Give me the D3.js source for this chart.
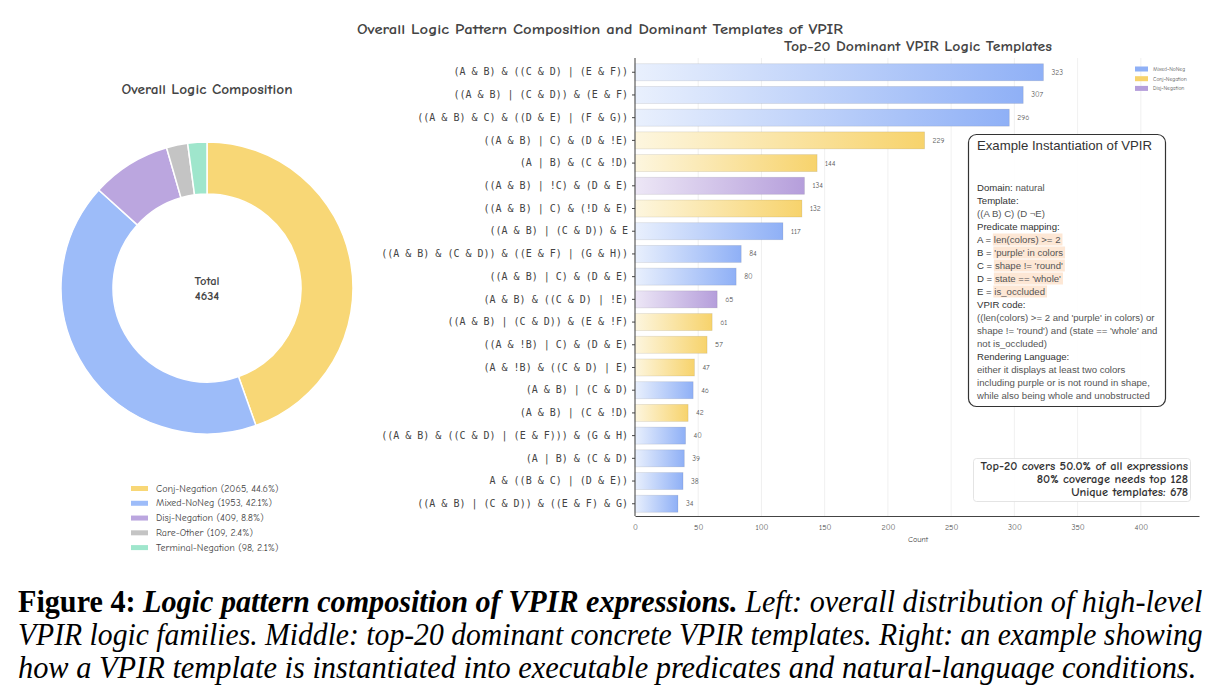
<!DOCTYPE html>
<html>
<head>
<meta charset="utf-8">
<script src="https://cdn.jsdelivr.net/npm/d3@7"></script>
<style>
  body { margin: 0; background: #fff; }
  svg { display: block; }
</style>
</head>
<body>
<svg id="fig" width="1221" height="698"></svg>
<script>
// donut data
const families = ["Conj-Negation", "Mixed-NoNeg", "Disj-Negation", "Rare-Other", "Terminal-Negation"];
const familyCounts = [2065, 1953, 409, 109, 98];
const familyColors = ["#f8d776", "#9dbcf9", "#bba6df", "#c4c4c4", "#9fe6cc"];

// top-20 templates
const templates = [
  "(A & B) & ((C & D) | (E & F))",
  "((A & B) | (C & D)) & (E & F)",
  "((A & B) & C) & ((D & E) | (F & G))",
  "((A & B) | C) & (D & !E)",
  "(A | B) & (C & !D)",
  "((A & B) | !C) & (D & E)",
  "((A & B) | C) & (!D & E)",
  "((A & B) | (C & D)) & E",
  "((A & B) & (C & D)) & ((E & F) | (G & H))",
  "((A & B) | C) & (D & E)",
  "(A & B) & ((C & D) | !E)",
  "((A & B) | (C & D)) & (E & !F)",
  "((A & !B) | C) & (D & E)",
  "(A & !B) & ((C & D) | E)",
  "(A & B) | (C & D)",
  "(A & B) | (C & !D)",
  "((A & B) & ((C & D) | (E & F))) & (G & H)",
  "(A | B) & (C & D)",
  "A & ((B & C) | (D & E))",
  "((A & B) | (C & D)) & ((E & F) & G)"
];
const templateCounts = [323, 307, 296, 229, 144, 134, 132, 117, 84, 80, 65, 61, 57, 47, 46, 42, 40, 39, 38, 34];
const templateFamilies = ["Mixed-NoNeg", "Mixed-NoNeg", "Mixed-NoNeg", "Conj-Negation", "Conj-Negation",
  "Disj-Negation", "Conj-Negation", "Mixed-NoNeg", "Mixed-NoNeg", "Mixed-NoNeg", "Disj-Negation",
  "Conj-Negation", "Conj-Negation", "Conj-Negation", "Mixed-NoNeg", "Conj-Negation", "Mixed-NoNeg",
  "Mixed-NoNeg", "Mixed-NoNeg", "Mixed-NoNeg"];
const barLegend = ["Mixed-NoNeg", "Conj-Negation", "Disj-Negation"];
const xTicks = [0, 50, 100, 150, 200, 250, 300, 350, 400];

const statLines = ["Top-20 covers 50.0% of all expressions", "80% coverage needs top 128", "Unique templates: 678"];

const comic = "'Comic Sans MS', 'Comic Neue', 'DejaVu Sans', sans-serif";
const mono = "'DejaVu Sans Mono', monospace";
const sans = "'Liberation Sans', Arial, sans-serif";

const svg = d3.select("#fig");
const defs = svg.append("defs");

// gradients for bars (light left -> saturated right)
const barGrad = {
  "Mixed-NoNeg": ["#e9f0fd", "#8fb0f6"],
  "Conj-Negation": ["#fdf6df", "#f7d36c"],
  "Disj-Negation": ["#ede7f6", "#b59edb"]
};
Object.entries(barGrad).forEach(([k, c], i) => {
  const g = defs.append("linearGradient").attr("id", "grad" + i).attr("x1", 0).attr("x2", 1).attr("y1", 0).attr("y2", 0);
  g.append("stop").attr("offset", "0%").attr("stop-color", c[0]);
  g.append("stop").attr("offset", "100%").attr("stop-color", c[1]);
  barGrad[k].id = "grad" + i;
});

function fit(sel, w) {
  sel.attr("textLength", w).attr("lengthAdjust", "spacingAndGlyphs");
}

// main title
svg.append("text")
  .attr("x", 600).attr("y", 34)
  .attr("text-anchor", "middle")
  .attr("font-family", comic).attr("font-weight", "bold").attr("font-size", 14)
  .attr("fill", "#444")
  .text("Overall Logic Pattern Composition and Dominant Templates of VPIR")
  .call(fit, 486);

// ---------- donut ----------
const cx = 207, cy = 288;
const outerR = 146, innerR = 94;
svg.append("text")
  .attr("x", cx).attr("y", 94)
  .attr("text-anchor", "middle")
  .attr("font-family", comic).attr("font-weight", "bold").attr("font-size", 14)
  .attr("fill", "#444")
  .text("Overall Logic Composition")
  .call(fit, 171);

const pieData = d3.pie().sort(null).value((d) => d.count)(
  families.map((f, i) => ({ name: f, count: familyCounts[i], color: familyColors[i] }))
);
const arc = d3.arc().innerRadius(innerR).outerRadius(outerR);
svg.append("g")
  .attr("transform", `translate(${cx},${cy})`)
  .selectAll("path")
  .data(pieData)
  .join("path")
  .attr("d", arc)
  .attr("fill", (d) => d.data.color)
  .attr("stroke", "#fff")
  .attr("stroke-width", 1.5);

const total = d3.sum(familyCounts);
const totalText = svg.append("text")
  .attr("x", cx).attr("y", cy - 3)
  .attr("text-anchor", "middle")
  .attr("font-family", comic).attr("font-weight", "bold").attr("font-size", 12.5)
  .attr("fill", "#444");
totalText.append("tspan").attr("x", cx).attr("dy", 0).text("Total");
totalText.append("tspan").attr("x", cx).attr("dy", 15).text(total);

const legY = d3.scalePoint().domain(families).range([488.5, 547.6]);
const leg = svg.append("g").selectAll("g").data(families).join("g");
leg.append("rect")
  .attr("x", 131).attr("y", (d) => legY(d) - 2.5)
  .attr("width", 17).attr("height", 5)
  .attr("fill", (d, i) => familyColors[i]);
leg.append("text")
  .attr("x", 156).attr("y", (d) => legY(d))
  .attr("dominant-baseline", "central")
  .attr("font-family", comic).attr("font-size", 10)
  .attr("fill", "#444")
  .text((d, i) => `${d} (${familyCounts[i]}, ${(familyCounts[i] / total * 100).toFixed(1)}%)`);

// ---------- bar chart ----------
const x = d3.scaleLinear().domain([0, 446]).range([635, 1199]);
const y = d3.scaleBand().domain(templates).range([61, 515]).paddingInner(0.25).paddingOuter(0.12);
const baseY = 516, topY = 58;

svg.append("text")
  .attr("x", 918).attr("y", 51)
  .attr("text-anchor", "middle")
  .attr("font-family", comic).attr("font-weight", "bold").attr("font-size", 14)
  .attr("fill", "#444")
  .text("Top-20 Dominant VPIR Logic Templates")
  .call(fit, 268);

// gridlines
svg.append("g")
  .selectAll("line")
  .data(xTicks)
  .join("line")
  .attr("x1", (d) => x(d)).attr("x2", (d) => x(d))
  .attr("y1", topY).attr("y2", baseY)
  .attr("stroke", "#ececec").attr("stroke-width", 0.8);

const barData = templates.map((t, i) => ({ name: t, count: templateCounts[i], fam: templateFamilies[i] }));
svg.append("g")
  .selectAll("rect")
  .data(barData)
  .join("rect")
  .attr("x", x(0))
  .attr("y", (d) => y(d.name))
  .attr("width", (d) => x(d.count) - x(0))
  .attr("height", y.bandwidth())
  .attr("fill", (d) => `url(#${barGrad[d.fam].id})`)
  .attr("stroke", "rgba(0,0,0,0.10)")
  .attr("stroke-width", 0.8);

svg.append("g")
  .selectAll("text")
  .data(barData)
  .join("text")
  .attr("x", (d) => x(d.count) + 8)
  .attr("y", (d) => y(d.name) + y.bandwidth() / 2)
  .attr("dominant-baseline", "central")
  .attr("font-family", comic).attr("font-size", 7.5)
  .attr("fill", "#555")
  .text((d) => d.count);

// y axis
const yAxis = svg.append("g")
  .attr("transform", `translate(${x(0)},0)`)
  .call(d3.axisLeft(y).tickSize(3).tickPadding(4));
yAxis.select(".domain").attr("stroke", "#444").attr("d", `M0,${topY}V${baseY}`);
yAxis.selectAll(".tick line").attr("stroke", "#444");
yAxis.selectAll(".tick text")
  .attr("font-family", mono).attr("font-size", 10)
  .attr("fill", "#444");

// x axis
const xAxis = svg.append("g")
  .attr("transform", `translate(0,${baseY})`)
  .call(d3.axisBottom(x).tickValues(xTicks).tickSize(0).tickPadding(8));
xAxis.select(".domain").attr("stroke", "#444");
xAxis.selectAll(".tick text")
  .attr("font-family", comic).attr("font-size", 8)
  .attr("fill", "#555");
svg.append("text")
  .attr("x", 918).attr("y", 542)
  .attr("text-anchor", "middle")
  .attr("font-family", comic).attr("font-size", 8)
  .attr("fill", "#444")
  .text("Count");

// bar legend
const bl = svg.append("g").selectAll("g").data(barLegend).join("g");
bl.append("rect")
  .attr("x", 1135).attr("y", (d, i) => 66.5 + i * 9.7)
  .attr("width", 13).attr("height", 5)
  .attr("fill", (d) => barGrad[d][1]);
bl.append("text")
  .attr("x", 1153).attr("y", (d, i) => 69 + i * 9.7)
  .attr("dominant-baseline", "central")
  .attr("font-family", comic).attr("font-size", 5.5)
  .attr("fill", "#555")
  .text((d) => d);

// ---------- example box ----------
svg.append("rect")
  .attr("x", 968.5).attr("y", 134.5)
  .attr("width", 197).attr("height", 272)
  .attr("rx", 8)
  .attr("fill", "rgba(255,255,255,0.88)")
  .attr("stroke", "#333").attr("stroke-width", 1.2);
svg.append("text")
  .attr("x", 977).attr("y", 150)
  .attr("font-family", sans).attr("font-size", 13)
  .attr("fill", "#333")
  .text("Example Instantiation of VPIR")
  .call(fit, 175);

const exLines = [
  ["Domain:", " natural", false],
  ["Template:", "", false],
  ["", "((A B) C) (D \u00acE)", false],
  ["Predicate mapping:", "", false],
  ["A = ", "len(colors) >= 2", true],
  ["B = ", "'purple' in colors", true],
  ["C = ", "shape != 'round'", true],
  ["D = ", "state == 'whole'", true],
  ["E = ", "is_occluded", true],
  ["VPIR code:", "", false],
  ["", "((len(colors) >= 2 and 'purple' in colors) or", false],
  ["", "shape != 'round') and (state == 'whole' and", false],
  ["", "not is_occluded)", false],
  ["Rendering Language:", "", false],
  ["", "either it displays at least two colors", false],
  ["", "including purple or is not round in shape,", false],
  ["", "while also being whole and unobstructed", false]
];
const exG = svg.append("g");
exLines.forEach((ln, i) => {
  const by = 191 + i * 13;
  const t = exG.append("text")
    .attr("x", 977).attr("y", by)
    .attr("font-family", sans).attr("font-size", 9.6);
  const lab = t.append("tspan").attr("fill", "#333").text(ln[0]);
  const val = t.append("tspan").attr("fill", "#555").text(ln[1]);
  if (ln[2]) {
    const x0 = 977 + lab.node().getComputedTextLength();
    const w = val.node().getComputedTextLength();
    exG.insert("rect", "text")
      .attr("x", x0 - 1).attr("y", by - 9.5)
      .attr("width", w + 3).attr("height", 12)
      .attr("fill", "#fde7d5");
  }
});

// ---------- stats box ----------
svg.append("rect")
  .attr("x", 973.5).attr("y", 458.5)
  .attr("width", 217).attr("height", 43)
  .attr("rx", 3)
  .attr("fill", "rgba(255,255,255,0.9)")
  .attr("stroke", "#ddd").attr("stroke-width", 0.8);
svg.append("g")
  .selectAll("text")
  .data(statLines)
  .join("text")
  .attr("x", 1188).attr("y", (d, i) => 469.5 + i * 13.4)
  .attr("text-anchor", "end")
  .attr("font-family", comic).attr("font-weight", "bold").attr("font-size", 12.4)
  .attr("fill", "#333")
  .text((d) => d);

// ---------- caption ----------
const capLines = [
  [["Figure 4: ", "bold", "normal"], ["Logic pattern composition of VPIR expressions.", "bold", "italic"],
   [" Left: overall distribution of high-level", "normal", "italic"]],
  [["VPIR logic families. Middle: top-20 dominant concrete VPIR templates. Right: an example showing", "normal", "italic"]],
  [["how a VPIR template is instantiated into executable predicates and natural-language conditions.", "normal", "italic"]]
];
const capW = [1185, 1185, 1179];
capLines.forEach((parts, i) => {
  const g = svg.append("g");
  const t = g.append("text")
    .attr("x", 0).attr("y", 0)
    .attr("font-family", "'Liberation Serif', 'Times New Roman', serif")
    .attr("font-size", 32)
    .attr("fill", "#000");
  parts.forEach((p) => {
    t.append("tspan").attr("font-weight", p[1]).attr("font-style", p[2]).text(p[0]);
  });
  const w = t.node().getComputedTextLength();
  g.attr("transform", `translate(18,${612 + i * 33}) scale(${capW[i] / w},1)`);
});
</script>
</body>
</html>
